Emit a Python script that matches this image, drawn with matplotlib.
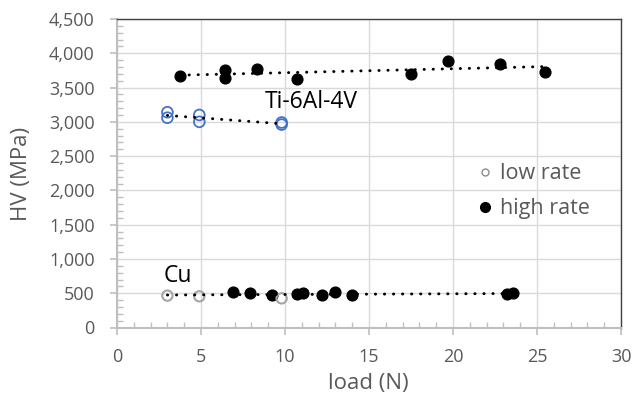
import numpy as np
import matplotlib
matplotlib.use("Agg")
import matplotlib.pyplot as plt
from matplotlib.ticker import MultipleLocator, FuncFormatter
from matplotlib.lines import Line2D

# --- data ---
ti_low_x = [3.0, 3.0, 4.9, 4.9, 9.8, 9.8]
ti_low_y = [3140, 3060, 3100, 3000, 2990, 2960]

ti_high_x = [3.75, 6.45, 6.45, 8.35, 10.7, 17.5, 19.7, 22.8, 25.5]
ti_high_y = [3675, 3757, 3640, 3772, 3626, 3700, 3889, 3840, 3732]

cu_low_x = [3.0, 4.9, 9.8]
cu_low_y = [465, 455, 425]

cu_high_x = [6.9, 7.9, 9.2, 10.7, 11.1, 12.2, 12.95, 14.0, 23.2, 23.6]
cu_high_y = [523, 500, 470, 485, 500, 480, 515, 475, 485, 500]

legend_labels = ["low rate", "high rate"]

text_color = "#595959"
plt.rcParams['font.family'] = ['Open Sans', 'DejaVu Sans']

W, H = 644, 396
fig = plt.figure(figsize=(W / 100, H / 100), dpi=100)
ax = fig.add_axes([117 / W, 1 - 327.5 / H, 504 / W, 308.5 / H])

ax.set_xlim(0, 30)
ax.set_ylim(0, 4500)
ax.xaxis.set_major_locator(MultipleLocator(5))
ax.xaxis.set_minor_locator(MultipleLocator(1))
ax.yaxis.set_major_locator(MultipleLocator(500))
ax.yaxis.set_minor_locator(MultipleLocator(100))
ax.yaxis.set_major_formatter(FuncFormatter(lambda v, p: f"{int(v):,}"))
ax.grid(True, which='major', color='#D9D9D9', linewidth=1.0)
ax.set_axisbelow(True)

for s in ['left', 'bottom']:
    ax.spines[s].set_color('#BFBFBF')
    ax.spines[s].set_linewidth(1.5)
for s in ['top', 'right']:
    ax.spines[s].set_color('#404040')
    ax.spines[s].set_linewidth(1.0)

ax.tick_params(which='major', direction='out', length=5, color='#BFBFBF', width=1.2,
               labelcolor=text_color, labelsize=13, top=False, right=False)
ax.tick_params(which='minor', direction='in', length=4, color='#BFBFBF', width=1.0,
               top=False, right=False)
ax.tick_params(axis='y', which='major', pad=11)
ax.tick_params(axis='x', which='major', pad=10)

# trend lines
def trend(xs, ys):
    c = np.polyfit(xs, ys, 1)
    xx = np.array([min(xs), max(xs)])
    ax.plot(xx, np.polyval(c, xx), linestyle=(0, (0.1, 3.0)), dash_capstyle='round',
            color='black', linewidth=2.1, zorder=4)

# markers
ax.scatter(ti_high_x, ti_high_y, s=60, color='black', zorder=3)
ax.scatter(cu_high_x, cu_high_y, s=60, color='black', zorder=3)
ax.scatter(ti_low_x, ti_low_y, s=60, facecolors='none', edgecolors='#4472C4', linewidths=1.3, zorder=3)
ax.scatter(cu_low_x, cu_low_y, s=55, facecolors='none', edgecolors='#A5A5A5', linewidths=1.5, zorder=3)

trend(ti_high_x, ti_high_y)
trend(ti_low_x, ti_low_y)
trend(cu_low_x + cu_high_x, cu_low_y + cu_high_y)

ax.text(8.8, 3205, "Ti-6Al-4V", fontsize=16.5, color='black', ha='left', va='baseline')
ax.text(2.76, 670, "Cu", fontsize=16.5, color='black', ha='left', va='baseline')

fig.text(368.5 / W, 1 - 383 / H, "load (N)", fontsize=16, color=text_color, ha='center', va='center')
fig.text(22 / W, 1 - 173.5 / H, "HV (MPa)", fontsize=16, color=text_color, ha='center', va='center',
         rotation=90)

handles = [
    Line2D([], [], marker='o', linestyle='none', markerfacecolor='none',
           markeredgecolor='#8C8C8C', markersize=5, markeredgewidth=1.0),
    Line2D([], [], marker='o', linestyle='none', color='black', markersize=7),
]
leg = ax.legend(handles, legend_labels, loc='center left',
                bbox_to_anchor=(0.713, 0.4416), frameon=False, fontsize=15.5,
                handletextpad=0.3, labelspacing=0.65, handlelength=0.8,
                borderpad=0, borderaxespad=0)
for t in leg.get_texts():
    t.set_color(text_color)

fig.savefig("out.png", dpi=100)
